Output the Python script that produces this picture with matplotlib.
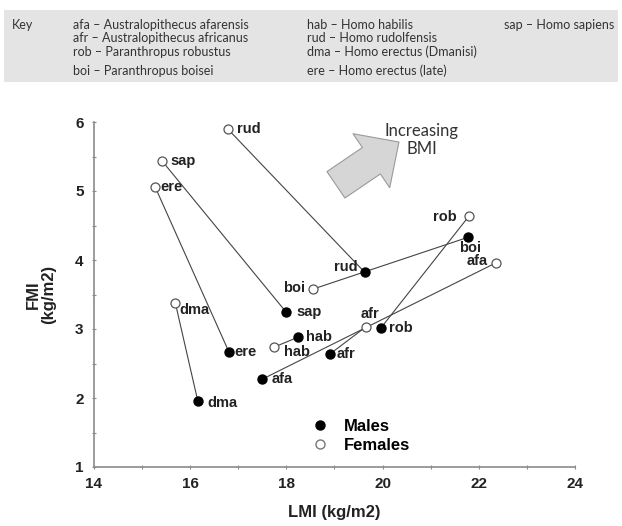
import matplotlib
matplotlib.use("Agg")
import matplotlib.pyplot as plt
from matplotlib.lines import Line2D
from matplotlib.patches import Rectangle
from matplotlib.ticker import MultipleLocator

species = ["afa", "afr", "rob", "boi", "hab", "rud", "dma", "ere", "sap"]
male_lmi = [17.49, 18.91, 19.97, 21.78, 18.24, 19.63, 16.16, 16.81, 18.00]
male_fmi = [2.27, 2.64, 3.02, 4.33, 2.88, 3.82, 1.95, 2.66, 3.24]
female_lmi = [22.36, 19.65, 21.80, 18.56, 17.75, 16.78, 15.69, 15.27, 15.41]
female_fmi = [3.96, 3.03, 4.64, 3.58, 2.74, 5.90, 3.38, 5.06, 5.44]

# label offsets (points) and alignment for each species
male_offsets = {
    "afa": ((7, 0), "left", "center"),
    "afr": ((5, 0), "left", "center"),
    "rob": ((6, 0), "left", "center"),
    "boi": ((1, -8), "center", "center"),
    "hab": ((6, 0), "left", "center"),
    "rud": ((-5, 4), "right", "center"),
    "dma": ((7, -1), "left", "center"),
    "ere": ((4, 0), "left", "center"),
    "sap": ((7, 0), "left", "center"),
}
female_offsets = {
    "afa": ((-6, 1), "right", "center"),
    "afr": ((3, 9), "center", "center"),
    "rob": ((-9, -1), "right", "center"),
    "boi": ((-6, 1), "right", "center"),
    "hab": ((7, -4), "left", "center"),
    "rud": ((7, 0), "left", "center"),
    "dma": ((3, -5), "left", "center"),
    "ere": ((4, 0), "left", "center"),
    "sap": ((6, 0), "left", "center"),
}

key_col1 = ["afa – Australopithecus afarensis", "afr – Australopithecus africanus",
            "rob – Paranthropus robustus", "boi – Paranthropus boisei"]
key_col2 = ["hab – Homo habilis", "rud – Homo rudolfensis",
            "dma – Homo erectus (Dmanisi)", "ere – Homo erectus (late)"]
key_col3 = ["sap – Homo sapiens"]

W, H = 622, 526
fig = plt.figure(figsize=(W / 100, H / 100), dpi=100)
ax = fig.add_axes([94 / W, 1 - 467 / H, (575 - 94) / W, (467 - 122) / H])

# key box at the top
fig.patches.append(Rectangle((4 / W, 1 - 82 / H), 614 / W, 72 / H,
                             transform=fig.transFigure, facecolor="#e4e4e4",
                             edgecolor="none", zorder=0))
key_font = dict(family="Lato", fontsize=9, color="#333333", va="center")
row_y = [25, 38.5, 52, 71]
fig.text(12 / W, 1 - row_y[0] / H, "Key", **key_font)
for i, t in enumerate(key_col1):
    fig.text(73 / W, 1 - row_y[i] / H, t, **key_font)
for i, t in enumerate(key_col2):
    fig.text(307 / W, 1 - row_y[i] / H, t, **key_font)
for i, t in enumerate(key_col3):
    fig.text(504 / W, 1 - row_y[i] / H, t, **key_font)

# connecting lines male -> female
for i in range(len(species)):
    ax.plot([male_lmi[i], female_lmi[i]], [male_fmi[i], female_fmi[i]],
            color="#444444", lw=0.8, zorder=1)

ax.scatter(male_lmi, male_fmi, s=42, color="black", zorder=3)
ax.scatter(female_lmi, female_fmi, s=42, facecolor="white", edgecolor="#555555",
           linewidth=0.9, zorder=3)

lab_font = dict(family="Liberation Sans", fontweight="bold", fontsize=10.5, color="#222222")
for i, sp in enumerate(species):
    off, ha, va = male_offsets[sp]
    ax.annotate(sp, (male_lmi[i], male_fmi[i]), xytext=off, textcoords="offset points",
                ha=ha, va=va, **lab_font)
    off, ha, va = female_offsets[sp]
    ax.annotate(sp, (female_lmi[i], female_fmi[i]), xytext=off, textcoords="offset points",
                ha=ha, va=va, **lab_font)

# "Increasing BMI" arrow
ax.annotate("", xy=(20.34, 5.71), xytext=(19.03, 5.09),
            arrowprops=dict(arrowstyle="simple,head_length=24,head_width=47,tail_width=23",
                            mutation_scale=1, fc="#d6d6d6", ec="#9a9a9a", lw=0.8,
                            shrinkA=0, shrinkB=0))
ax.text(20.81, 5.74, "Increasing\nBMI", family="Lato", fontsize=12, color="#333333",
        ha="center", va="center", linespacing=1.15)

# legend
handles = [Line2D([], [], marker="o", ls="none", color="black", markersize=6.5),
           Line2D([], [], marker="o", ls="none", markerfacecolor="white",
                  markeredgecolor="#777777", markersize=6.5)]
ax.legend(handles, ["Males", "Females"], loc="upper left", bbox_to_anchor=(0.422, 0.183),
          frameon=False, handlelength=1.0, handletextpad=0.9, labelspacing=0.25,
          prop=dict(family="Liberation Sans", weight="bold", size=12))

ax.set_xlim(14, 24)
ax.set_ylim(1, 6)
ax.xaxis.set_major_locator(MultipleLocator(2))
ax.xaxis.set_minor_locator(MultipleLocator(1))
ax.yaxis.set_major_locator(MultipleLocator(1))
ax.yaxis.set_minor_locator(MultipleLocator(0.5))
for s in ["top", "right"]:
    ax.spines[s].set_visible(False)
for s in ["left", "bottom"]:
    ax.spines[s].set_color("#8a8a8a")
    ax.spines[s].set_linewidth(1.2)
ax.tick_params(which="both", direction="inout", color="#8a8a8a", length=3, width=0.8)
ax.tick_params(axis="x", pad=6)
ax.tick_params(axis="y", pad=6)
for lbl in ax.get_xticklabels() + ax.get_yticklabels():
    lbl.set_family("Liberation Sans")
    lbl.set_fontweight("bold")
    lbl.set_fontsize(11)
    lbl.set_color("#222222")

ax.set_xlabel("LMI (kg/m2)", family="Liberation Sans", fontweight="bold", fontsize=12,
              color="#222222", labelpad=10)
ax.set_ylabel("FMI\n(kg/m2)", family="Liberation Sans", fontweight="bold", fontsize=12,
              color="#222222", labelpad=14, linespacing=1.0)

fig.savefig("out.png", dpi=100)
